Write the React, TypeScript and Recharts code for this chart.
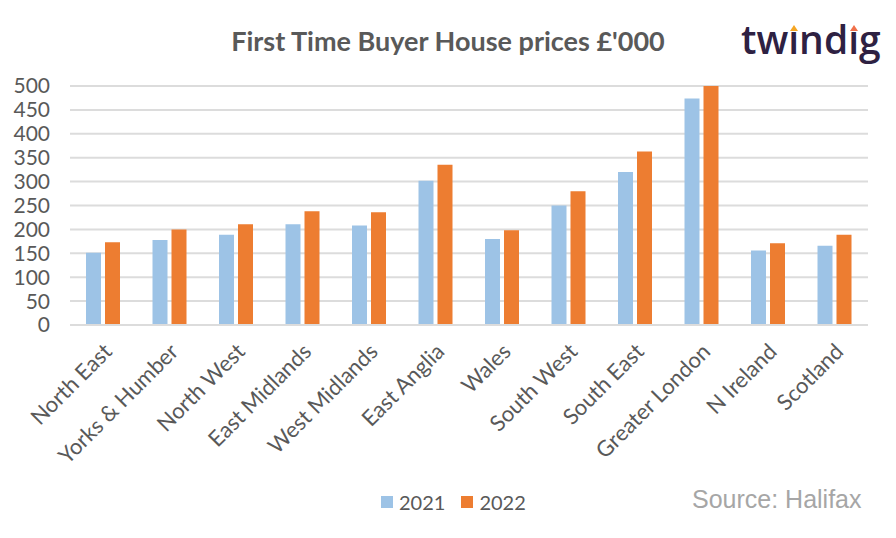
import { Bar, BarChart, CartesianGrid, XAxis, YAxis } from "recharts";

const regions = [
  "North East",
  "Yorks & Humber",
  "North West",
  "East Midlands",
  "West Midlands",
  "East Anglia",
  "Wales",
  "South West",
  "South East",
  "Greater London",
  "N Ireland",
  "Scotland",
];
const prices2021 = [151, 178, 189, 211, 208, 302, 180, 250, 320, 474, 156, 166];
const prices2022 = [173, 200, 211, 238, 236, 335, 198, 280, 363, 500, 171, 189];
const yTicks = [0, 50, 100, 150, 200, 250, 300, 350, 400, 450, 500];
const seriesNames = ["2021", "2022"];
const seriesColors = ["#9dc3e6", "#ed7d31"];

const FONT = "Lato, 'Open Sans', sans-serif";
const GREY = "#595959";

const data = regions.map((r, i) => ({
  region: r,
  y2021: prices2021[i],
  y2022: prices2022[i],
}));

function RotatedTick(props: any) {
  const { x, y, payload } = props;
  return (
    <g transform={`translate(${x + 10},${y + 20})`}>
      <text
        transform="rotate(-45)"
        textAnchor="end"
        fill={GREY}
        fontSize={22}
        fontFamily={FONT}
      >
        {payload.value}
      </text>
    </g>
  );
}

// the i's in the logo carry a small flame instead of a dot
function FlameI({ color }: { color: string }) {
  return (
    <span style={{ position: "relative" }}>
      ı
      <span
        style={{
          position: "absolute",
          left: "50%",
          top: 13,
          marginLeft: -4,
          width: 0,
          height: 0,
          borderLeft: "4px solid transparent",
          borderRight: "4px solid transparent",
          borderBottom: `6px solid ${color}`,
        }}
      />
    </span>
  );
}

export default function App() {
  return (
    <div
      style={{
        position: "absolute",
        left: 0,
        top: 0,
        width: 896,
        height: 538,
        background: "#fff",
        fontFamily: FONT,
      }}
    >
      <div
        style={{
          position: "absolute",
          left: 0,
          width: 896,
          top: 24,
          textAlign: "center",
          fontSize: 27,
          fontWeight: 700,
          color: GREY,
        }}
      >
        First Time Buyer House prices £'000
      </div>
      <div
        style={{
          position: "absolute",
          left: 741,
          top: 12,
          fontSize: 39,
          fontWeight: 600,
          color: "#2e2142",
          fontFamily: "'Open Sans', sans-serif",
        }}
      >
        tw
        <FlameI color="#f5a623" />
        nd
        <FlameI color="#f0704a" />g
      </div>
      <div
        style={{
          position: "absolute",
          left: 692,
          top: 485,
          fontSize: 25,
          color: "#a6a6a6",
          fontFamily: "'Liberation Sans', Arial, sans-serif",
        }}
      >
        Source: Halifax
      </div>
      <div
        style={{
          position: "absolute",
          left: 381,
          top: 490,
          display: "flex",
          alignItems: "center",
          fontSize: 20,
          color: GREY,
        }}
      >
        {seriesNames.map((n, i) => (
          <div
            key={n}
            style={{ display: "flex", alignItems: "center", marginRight: 16 }}
          >
            <span
              style={{
                display: "inline-block",
                width: 12,
                height: 12,
                background: seriesColors[i],
                marginRight: 6,
              }}
            />
            {n}
          </div>
        ))}
      </div>
      <BarChart
        width={896}
        height={538}
        data={data}
        margin={{ top: 86, right: 28, bottom: 63, left: 0 }}
        barSize={15}
        barGap={4}
      >
        <CartesianGrid vertical={false} stroke="#dcdcdc" strokeWidth={2} />
        <XAxis
          dataKey="region"
          interval={0}
          height={150}
          axisLine={{ stroke: "#dcdcdc", strokeWidth: 2 }}
          tickLine={false}
          tick={<RotatedTick />}
        />
        <YAxis
          domain={[0, 500]}
          ticks={yTicks}
          interval={0}
          width={70}
          axisLine={false}
          tickLine={false}
          tick={{ fill: GREY, fontSize: 21, fontFamily: FONT }}
          tickMargin={14}
        />
        <Bar
          dataKey="y2021"
          name={seriesNames[0]}
          fill={seriesColors[0]}
          isAnimationActive={false}
        />
        <Bar
          dataKey="y2022"
          name={seriesNames[1]}
          fill={seriesColors[1]}
          isAnimationActive={false}
        />
      </BarChart>
    </div>
  );
}
